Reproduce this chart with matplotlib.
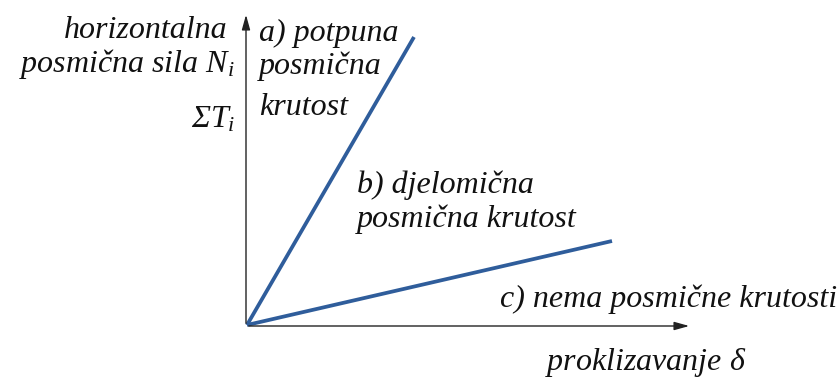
import numpy as np
import matplotlib.pyplot as plt

# slip (delta) and shear force for the two stiffness cases, origin at 0
slip_a = [0, 167]
force_a = [0, 288]
slip_b = [0, 365]
force_b = [0, 84]

plt.rcParams['mathtext.fontset'] = 'custom'
plt.rcParams['mathtext.it'] = 'Liberation Serif:italic'
plt.rcParams['mathtext.rm'] = 'Liberation Serif'

fig = plt.figure(figsize=(8.39, 3.81), dpi=100)
ax = fig.add_axes([0, 0, 1, 1])
# axes map 1 unit to 1 pixel, origin of the diagram at pixel (247, 325)
ax.set_xlim(-247, 592)
ax.set_ylim(-56, 325)
ax.axis('off')

blue = '#2f5d9b'
ax.plot(slip_a, force_a, color=blue, lw=2.7, solid_capstyle='butt')
ax.plot(slip_b, force_b, color=blue, lw=2.7, solid_capstyle='butt')

# axes with arrows
ax.annotate('', xy=(445, -1), xytext=(-1, -1),
            arrowprops=dict(arrowstyle='-|>,head_length=0.9,head_width=0.25', color='#222222', lw=1.0))
ax.annotate('', xy=(-1, 313), xytext=(-1, -1),
            arrowprops=dict(arrowstyle='-|>,head_length=0.9,head_width=0.25', color='#222222', lw=1.0))

tk = dict(fontsize=23, style='italic', family='Liberation Serif', color='#111111')
ax.text(-20, 287, 'horizontalna', ha='right', va='baseline', **tk)
ax.text(-12, 253, r'posmična sila $N_i$', ha='right', va='baseline', **tk)
ax.text(-12, 197, 'Σ$T_i$', ha='right', va='baseline', **tk)

ax.text(12, 284, 'a) potpuna', ha='left', va='baseline', **tk)
ax.text(12, 251, 'posmična', ha='left', va='baseline', **tk)
ax.text(12, 210, 'krutost', ha='left', va='baseline', **tk)

ax.text(110, 132, 'b) djelomična', ha='left', va='baseline', **tk)
ax.text(110, 98, 'posmična krutost', ha='left', va='baseline', **tk)

ax.text(253, 18, 'c) nema posmične krutosti', ha='left', va='baseline', **tk)
ax.text(298, -45, r'proklizavanje $\delta$', ha='left', va='baseline', **tk)

fig.savefig('out.png', dpi=100)
